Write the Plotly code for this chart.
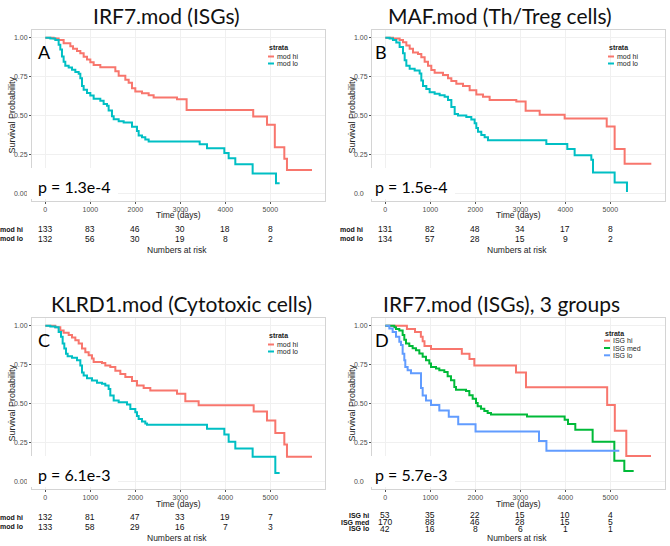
import plotly.graph_objects as go

# ---------------- data ----------------
TIME_TICKS = [0, 1000, 2000, 3000, 4000, 5000]
SURV_TICKS = [0, 0.25, 0.5, 0.75, 1.0]
SURV_TICK_TEXT = ["0.00", "0.25", "0.50", "0.75", "1.00"]

# Panel A: IRF7.mod (ISGs)
A_hi_days = [0, 185, 296, 407, 556, 615, 704, 778, 852, 926, 1000, 1074, 1222, 1556, 1630, 1778, 1852, 1926,
             2000, 2148, 2296, 2407, 2926, 3140, 4620, 4926, 5100, 5311, 5370, 5926]
A_hi_surv = [1.0, 0.995, 0.985, 0.965, 0.945, 0.93, 0.915, 0.90, 0.878, 0.86, 0.843, 0.825, 0.81, 0.785, 0.755,
             0.73, 0.71, 0.675, 0.655, 0.643, 0.63, 0.615, 0.605, 0.536, 0.494, 0.44, 0.296, 0.222, 0.15, 0.15]
A_lo_days = [0, 111, 222, 296, 333, 370, 407, 444, 519, 593, 667, 741, 778, 815, 852, 926, 1000, 1074, 1222, 1296,
             1370, 1407, 1481, 1519, 1630, 1741, 1926, 2037, 2074, 2148, 2222, 2296, 3430, 3593, 3978, 4074, 4222,
             4607, 5126, 5207]
A_lo_surv = [1.0, 0.995, 0.985, 0.955, 0.925, 0.88, 0.845, 0.82, 0.808, 0.795, 0.78, 0.768, 0.74, 0.69, 0.665,
             0.645, 0.628, 0.607, 0.595, 0.574, 0.562, 0.532, 0.495, 0.476, 0.463, 0.455, 0.428, 0.40, 0.372, 0.36,
             0.345, 0.333, 0.315, 0.29, 0.258, 0.225, 0.187, 0.127, 0.064, 0.064]
A_risk_hi = [133, 83, 46, 30, 18, 8]
A_risk_lo = [132, 56, 30, 19, 8, 2]

# Panel B: MAF.mod (Th/Treg cells)
B_hi_days = [0, 170, 318, 393, 467, 541, 615, 726, 800, 874, 948, 1022, 1096, 1281, 1393, 1467, 1578, 1726, 1874,
             2022, 2170, 2318, 2911, 3118, 3430, 3985, 4920, 5096, 5318, 5911]
B_hi_surv = [1.0, 0.995, 0.985, 0.972, 0.95, 0.929, 0.906, 0.895, 0.875, 0.845, 0.82, 0.793, 0.775, 0.76, 0.74,
             0.722, 0.705, 0.69, 0.662, 0.635, 0.62, 0.60, 0.59, 0.53, 0.505, 0.48, 0.43, 0.284, 0.19, 0.19]
B_lo_days = [0, 96, 170, 244, 318, 393, 430, 467, 541, 652, 763, 800, 837, 911, 985, 1096, 1207, 1318, 1393, 1467,
             1541, 1615, 1800, 1911, 1985, 2022, 2059, 2133, 2207, 2281, 3578, 4044, 4207, 4578, 4615, 5096, 5370]
B_lo_surv = [1.0, 0.995, 0.985, 0.97, 0.94, 0.90, 0.855, 0.82, 0.80, 0.79, 0.77, 0.725, 0.69, 0.67, 0.65, 0.64,
             0.63, 0.62, 0.60, 0.555, 0.51, 0.50, 0.49, 0.475, 0.45, 0.42, 0.395, 0.375, 0.36, 0.34, 0.316, 0.284,
             0.245, 0.215, 0.134, 0.069, 0.008]
B_risk_hi = [131, 82, 48, 34, 17, 8]
B_risk_lo = [134, 57, 28, 15, 9, 2]

# Panel C: KLRD1.mod (Cytotoxic cells)
C_hi_days = [0, 222, 333, 407, 519, 593, 667, 741, 815, 889, 963, 1037, 1074, 1259, 1333, 1444, 1556, 1667, 1778,
             1926, 2037, 2185, 2333, 2926, 3111, 3407, 4630, 4926, 5111, 5311, 5370, 5926]
C_hi_surv = [1.0, 0.99, 0.97, 0.955, 0.94, 0.924, 0.907, 0.886, 0.853, 0.83, 0.81, 0.79, 0.767, 0.76, 0.745,
             0.735, 0.71, 0.69, 0.67, 0.644, 0.616, 0.60, 0.584, 0.562, 0.515, 0.489, 0.448, 0.39, 0.31, 0.236,
             0.157, 0.157]
C_lo_days = [0, 111, 222, 296, 348, 385, 422, 459, 496, 593, 704, 778, 815, 852, 926, 1037, 1148, 1259, 1333,
             1407, 1444, 1519, 1630, 1815, 1889, 2000, 2037, 2074, 2148, 2222, 2259, 3593, 3978, 4074, 4222, 4607,
             5111, 5207]
C_lo_surv = [1.0, 0.995, 0.99, 0.96, 0.93, 0.886, 0.853, 0.82, 0.804, 0.795, 0.778, 0.745, 0.70, 0.68, 0.663,
             0.648, 0.633, 0.627, 0.616, 0.594, 0.551, 0.519, 0.508, 0.493, 0.465, 0.443, 0.42, 0.40, 0.385, 0.372,
             0.363, 0.338, 0.30, 0.254, 0.21, 0.157, 0.053, 0.053]
C_risk_hi = [132, 81, 47, 33, 19, 7]
C_risk_lo = [133, 58, 29, 16, 7, 3]

# Panel D: IRF7.mod (ISGs), 3 groups
D_hi_days = [0, 480, 660, 790, 830, 870, 1015, 1700, 1870, 1978, 2904, 3126, 4930, 5100, 5355, 5904]
D_hi_surv = [1.0, 0.98, 0.96, 0.93, 0.90, 0.87, 0.85, 0.82, 0.787, 0.744, 0.70, 0.605, 0.49, 0.325, 0.163, 0.163]
D_med_days = [0, 200, 237, 311, 385, 422, 459, 533, 607, 681, 756, 830, 904, 978, 1015, 1126, 1200, 1311, 1385,
              1459, 1533, 1570, 1793, 1867, 1941, 2015, 2052, 2126, 2200, 2274, 2348, 3148, 3985, 4059, 4222, 4607,
              5089, 5311, 5519]
D_med_surv = [1.0, 0.99, 0.98, 0.97, 0.94, 0.91, 0.886, 0.87, 0.855, 0.843, 0.822, 0.80, 0.778, 0.757, 0.735,
              0.725, 0.714, 0.703, 0.675, 0.65, 0.606, 0.589, 0.58, 0.553, 0.53, 0.503, 0.482, 0.467, 0.452, 0.439,
              0.43, 0.417, 0.395, 0.368, 0.331, 0.254, 0.131, 0.066, 0.066]
D_lo_days = [0, 89, 163, 237, 311, 348, 385, 422, 444, 496, 570, 793, 830, 904, 1015, 1200, 1410, 1620, 2005,
             3415, 3580, 5200]
D_lo_surv = [1.0, 0.983, 0.96, 0.93, 0.897, 0.876, 0.82, 0.778, 0.735, 0.714, 0.695, 0.60, 0.552, 0.52, 0.49,
             0.455, 0.415, 0.367, 0.32, 0.258, 0.196, 0.196]
D_risk_hi = [53, 35, 22, 15, 10, 4]
D_risk_med = [170, 88, 46, 28, 15, 5]
D_risk_lo = [42, 16, 8, 6, 1, 1]

RED, CYAN, GREEN, BLUE = "#F8766D", "#00BFC4", "#00BA38", "#619CFF"

panels = [
    dict(title="IRF7.mod (ISGs)", letter="A", p="p = 1.3e-4", L=32, T=30, tx=166, lx_off=4,
         groups=[("mod hi", A_hi_days, A_hi_surv, RED, A_risk_hi), ("mod lo", A_lo_days, A_lo_surv, CYAN, A_risk_lo)]),
    dict(title="MAF.mod (Th/Treg cells)", letter="B", p="p = 1.5e-4", L=372, T=30, tx=500, lx_off=1,
         groups=[("mod hi", B_hi_days, B_hi_surv, RED, B_risk_hi), ("mod lo", B_lo_days, B_lo_surv, CYAN, B_risk_lo)]),
    dict(title="KLRD1.mod (Cytotoxic cells)", letter="C", p="p = 6.1e-3", L=32, T=318, tx=181, lx_off=4,
         groups=[("mod hi", C_hi_days, C_hi_surv, RED, C_risk_hi), ("mod lo", C_lo_days, C_lo_surv, CYAN, C_risk_lo)]),
    dict(title="IRF7.mod (ISGs), 3 groups", letter="D", p="p = 5.7e-3", L=372, T=318, tx=501, lx_off=1,
         groups=[("ISG hi", D_hi_days, D_hi_surv, RED, D_risk_hi), ("ISG med", D_med_days, D_med_surv, GREEN, D_risk_med),
                 ("ISG lo", D_lo_days, D_lo_surv, BLUE, D_risk_lo)]),
]

# ---------------- layout helpers ----------------
W, H = 670, 546
PW, PH = 293, 171
XR = [-296, 6215]
YR = [-0.05, 1.05]
SANS = "Liberation Sans, Arial, sans-serif"
HUM = "Lato, Open Sans, sans-serif"


def fx(x):
    return x / W


def fy(y):
    return 1 - y / H


fig = go.Figure()
annotations = []
shapes = []
layout_axes = {}

for i, pnl in enumerate(panels):
    n = "" if i == 0 else str(i + 1)
    xa, ya = "x" + n, "y" + n
    L, T = pnl["L"], pnl["T"]
    R, B = L + PW, T + PH
    three = len(pnl["groups"]) == 3

    for name, days, surv, col, _ in pnl["groups"]:
        fig.add_trace(go.Scatter(x=days, y=surv, mode="lines", name=name, showlegend=False,
                                 line=dict(shape="hv", color=col, width=2), xaxis=xa, yaxis=ya,
                                 hoverinfo="skip"))

    common = dict(showgrid=True, gridcolor="#F0F0F0", zeroline=False, showline=True, mirror=True,
                  linecolor="#D4D4D4", linewidth=1, ticks="outside", ticklen=2, tickcolor="#555555",
                  automargin=False, tickfont=dict(family=SANS, size=7, color="#4D4D4D"))
    layout_axes["xaxis" + n] = dict(domain=[fx(L), fx(R)], range=XR, anchor=ya, tickvals=TIME_TICKS, **common)
    layout_axes["yaxis" + n] = dict(domain=[fy(B), fy(T)], range=YR, anchor=xa, tickvals=SURV_TICKS,
                                    ticktext=SURV_TICK_TEXT, **common)

    # panel title
    annotations.append(dict(text=pnl["title"], x=fx(pnl["tx"]), y=fy(T - 15), xref="paper", yref="paper",
                            xanchor="center", yanchor="middle", showarrow=False,
                            font=dict(family=HUM, size=21, color="#111111")))
    # panel letter
    annotations.append(dict(text=pnl["letter"], x=fx(L + pnl["lx_off"]), y=fy(T + 22), xref="paper",
                            yref="paper", xanchor="left", yanchor="middle", showarrow=False,
                            font=dict(family=HUM, size=18, color="#000000")))
    # p-value with white box
    p_left = L + pnl["lx_off"]
    shapes.append(dict(type="rect", xref="paper", yref="paper", x0=fx(p_left - 9), x1=fx(p_left + 82),
                       y0=fy(B - 2), y1=fy(B - 33), fillcolor="white", line=dict(width=0), layer="above"))
    annotations.append(dict(text=pnl["p"], x=fx(p_left), y=fy(B - 15), xref="paper", yref="paper",
                            xanchor="left", yanchor="middle", showarrow=False,
                            font=dict(family=HUM, size=16, color="#000000")))
    # axis titles
    annotations.append(dict(text="Survival Probability", x=fx(L - 21), y=fy((T + B) / 2), xref="paper",
                            yref="paper", textangle=-90, xanchor="center", yanchor="middle", showarrow=False,
                            font=dict(family=SANS, size=9, color="#222222")))
    annotations.append(dict(text="Time (days)", x=fx((L + R) / 2), y=fy(B + 14.5), xref="paper", yref="paper",
                            xanchor="center", yanchor="middle", showarrow=False,
                            font=dict(family=SANS, size=8.5, color="#222222")))
    annotations.append(dict(text="Numbers at risk", x=fx((L + R) / 2 - 2), y=fy(B + 49), xref="paper",
                            yref="paper", xanchor="center", yanchor="middle", showarrow=False,
                            font=dict(family=SANS, size=8.5, color="#222222")))

    # legend (strata)
    leg_x = R - (62 if three else 58)
    leg_t = T + (15 if three else 17)
    step = 7.3 if three else 7
    first = T + (22.7 if three else 26.5)
    annotations.append(dict(text="<b>strata</b>", x=fx(leg_x), y=fy(leg_t), xref="paper", yref="paper",
                            xanchor="left", yanchor="middle", showarrow=False,
                            font=dict(family=SANS, size=7, color="#222222")))
    # risk table
    rows_y = [B + 26, B + 33, B + 39.5] if three else [B + 28, B + 37.5]
    lab_right = L - 1 if three else L - 7
    for k, (name, days, surv, col, risk) in enumerate(pnl["groups"]):
        yy = first + step * k
        shapes.append(dict(type="line", xref="paper", yref="paper", x0=fx(leg_x + 1), x1=fx(leg_x + 7),
                           y0=fy(yy), y1=fy(yy), line=dict(color=col, width=2), layer="above"))
        annotations.append(dict(text=name, x=fx(leg_x + 8), y=fy(yy), xref="paper", yref="paper",
                                xanchor="left", yanchor="middle", showarrow=False,
                                font=dict(family=SANS, size=7, color="#222222")))
        annotations.append(dict(text="<b>" + name + "</b>", x=fx(lab_right), y=fy(rows_y[k]), xref="paper",
                                yref="paper", xanchor="right", yanchor="middle", showarrow=False,
                                font=dict(family=SANS, size=7, color="#111111")))
        for t, v in zip(TIME_TICKS, risk):
            annotations.append(dict(text=str(v), x=t, xref=xa, y=fy(rows_y[k]), yref="paper",
                                    xanchor="center", yanchor="middle", showarrow=False,
                                    font=dict(family=SANS, size=8.5, color="#111111")))

fig.update_layout(width=W, height=H, margin=dict(l=0, r=0, t=0, b=0), paper_bgcolor="white",
                  plot_bgcolor="white", showlegend=False, annotations=annotations, shapes=shapes,
                  **layout_axes)

fig.write_html("out.html", config={"displayModeBar": False, "staticPlot": True},
               post_script="document.body.style.margin='0';document.body.style.overflow='hidden';")
